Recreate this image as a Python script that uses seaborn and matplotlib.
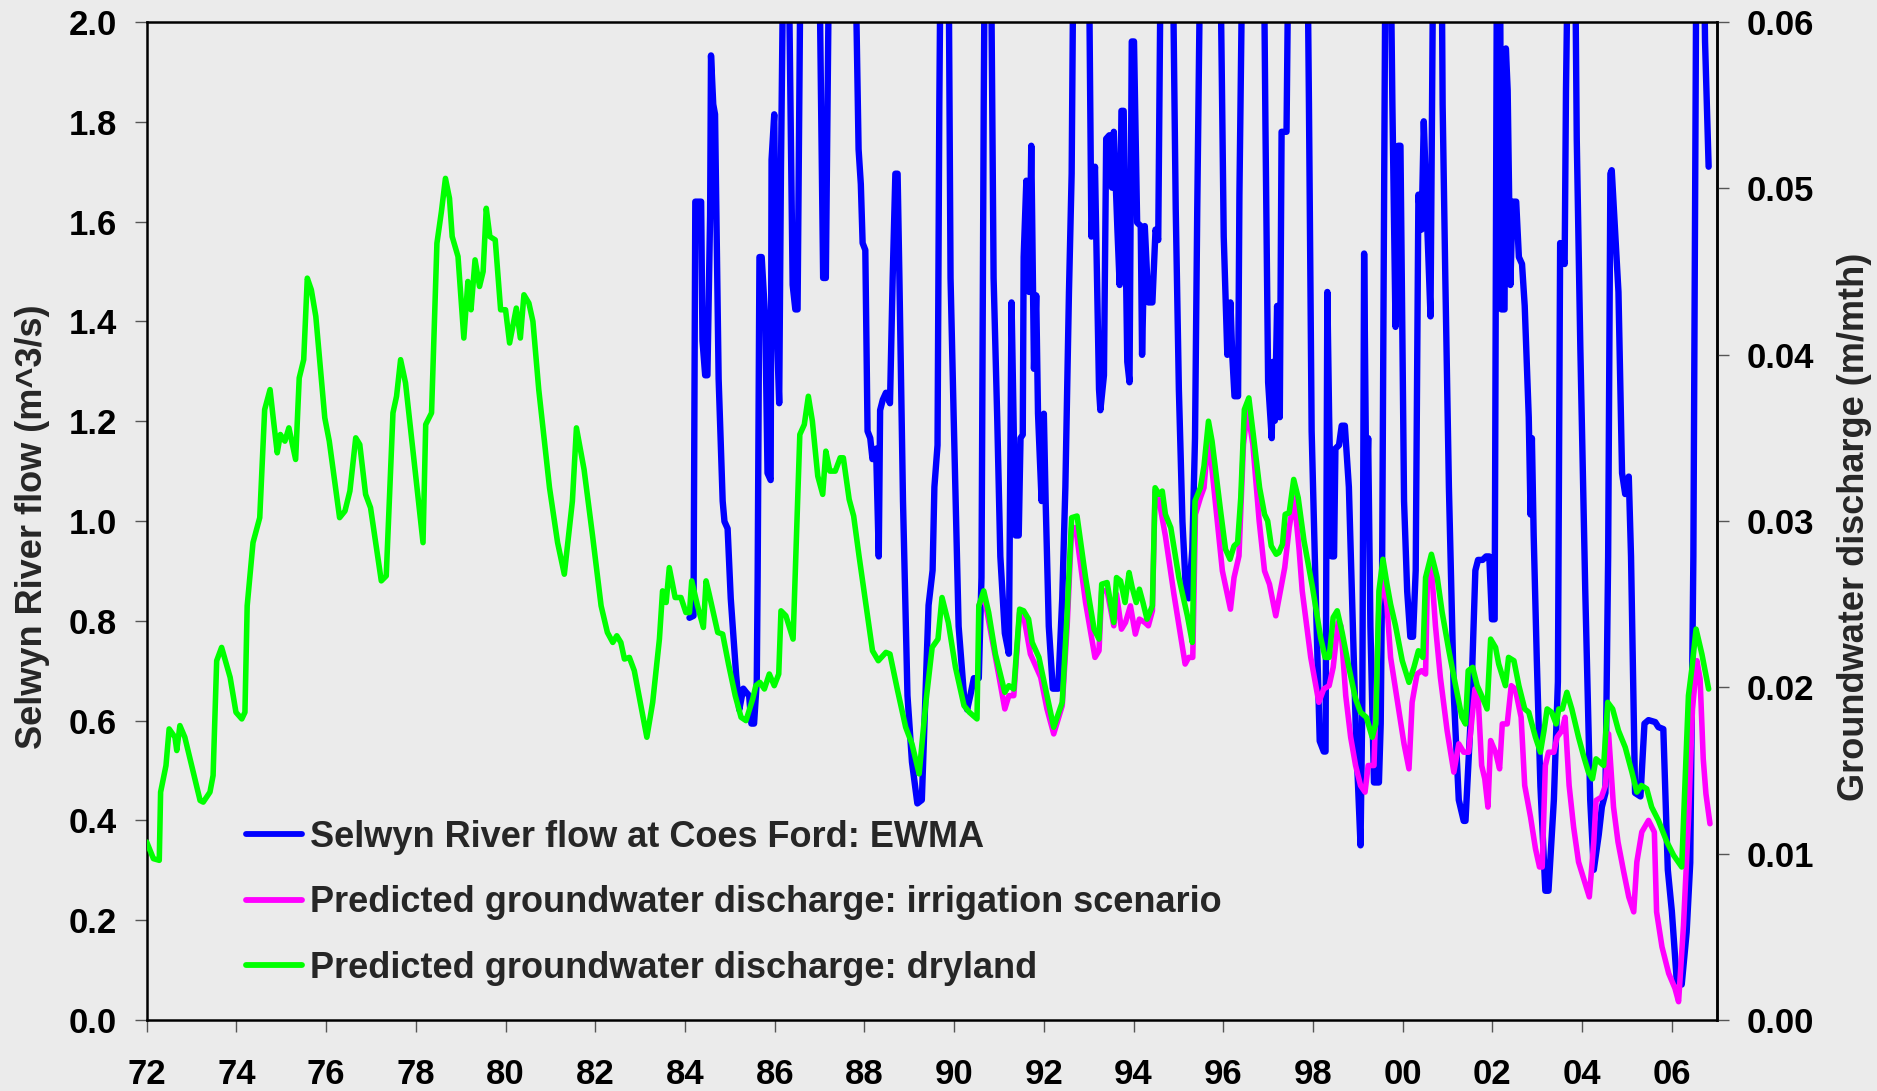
import numpy as np
import pandas as pd
import matplotlib
matplotlib.use("Agg")
import matplotlib.pyplot as plt
import seaborn as sns
from matplotlib.lines import Line2D

# ---------------- data ----------------
# Selwyn River flow at Coes Ford, EWMA (m^3/s) : (decimal year, flow)
river_flow = [
    (1984.10, 0.806), (1984.19, 0.810), (1984.23, 1.640), (1984.36, 1.640), (1984.39, 1.361),
    (1984.45, 1.292), (1984.50, 1.292), (1984.56, 1.612), (1984.58, 1.933), (1984.63, 1.835),
    (1984.67, 1.815), (1984.75, 1.285), (1984.84, 1.040), (1984.88, 0.999), (1984.95, 0.985),
    (1985.02, 0.845), (1985.14, 0.692), (1985.21, 0.622), (1985.30, 0.664), (1985.36, 0.657),
    (1985.43, 0.650), (1985.48, 0.594), (1985.54, 0.594), (1985.60, 0.678), (1985.62, 0.887),
    (1985.66, 1.529), (1985.71, 1.529), (1985.79, 1.403), (1985.84, 1.096), (1985.91, 1.082),
    (1985.93, 1.724), (1985.99, 1.815), (1986.03, 1.431), (1986.10, 1.236), (1986.14, 1.710),
    (1986.21, 2.30), (1986.29, 2.30), (1986.40, 1.473), (1986.46, 1.424), (1986.51, 1.424),
    (1986.60, 2.40), (1986.96, 2.40), (1987.08, 1.487), (1987.14, 1.487), (1987.24, 2.40),
    (1987.75, 2.40), (1987.87, 1.745), (1987.92, 1.675), (1987.96, 1.557), (1988.02, 1.543),
    (1988.07, 1.180), (1988.13, 1.166), (1988.18, 1.124), (1988.26, 1.145), (1988.32, 0.929),
    (1988.35, 1.222), (1988.41, 1.243), (1988.48, 1.257), (1988.57, 1.236), (1988.63, 1.487),
    (1988.69, 1.696), (1988.74, 1.696), (1988.78, 1.487), (1988.86, 1.040), (1988.96, 0.650),
    (1989.06, 0.517), (1989.18, 0.434), (1989.28, 0.441), (1989.36, 0.650), (1989.43, 0.831),
    (1989.52, 0.901), (1989.56, 1.068), (1989.63, 1.152), (1989.67, 1.835), (1989.72, 2.40),
    (1989.86, 2.40), (1989.92, 1.487), (1989.99, 1.208), (1990.10, 0.789), (1990.22, 0.650),
    (1990.29, 0.622), (1990.36, 0.650), (1990.44, 0.685), (1990.55, 0.685), (1990.61, 0.887),
    (1990.66, 1.835), (1990.70, 2.40), (1990.80, 2.40), (1990.88, 1.487), (1990.96, 1.208),
    (1991.03, 0.929), (1991.13, 0.775), (1991.22, 0.734), (1991.28, 1.438), (1991.37, 0.971),
    (1991.44, 0.971), (1991.48, 1.166), (1991.53, 1.173), (1991.55, 1.529), (1991.61, 1.682),
    (1991.67, 1.459), (1991.72, 1.752), (1991.78, 1.305), (1991.83, 1.452), (1991.87, 1.215),
    (1991.95, 1.040), (1992.00, 1.215), (1992.04, 1.040), (1992.11, 0.789), (1992.20, 0.664),
    (1992.32, 0.664), (1992.41, 0.845), (1992.48, 1.068), (1992.56, 1.459), (1992.62, 1.696),
    (1992.68, 2.40), (1992.98, 2.40), (1993.06, 1.570), (1993.14, 1.710), (1993.23, 1.264),
    (1993.26, 1.222), (1993.34, 1.292), (1993.39, 1.766), (1993.46, 1.773), (1993.52, 1.668),
    (1993.56, 1.780), (1993.64, 1.584), (1993.69, 1.473), (1993.73, 1.822), (1993.78, 1.822),
    (1993.86, 1.319), (1993.91, 1.278), (1993.96, 1.961), (1994.01, 1.961), (1994.08, 1.598),
    (1994.16, 1.591), (1994.19, 1.333), (1994.25, 1.591), (1994.33, 1.438), (1994.42, 1.438),
    (1994.49, 1.584), (1994.55, 1.563), (1994.63, 2.40), (1994.84, 2.40), (1994.94, 1.626),
    (1995.01, 1.264), (1995.09, 0.999), (1995.16, 0.873), (1995.23, 0.845), (1995.31, 0.943),
    (1995.37, 1.166), (1995.42, 1.626), (1995.52, 2.40), (1995.90, 2.40), (1996.01, 1.570),
    (1996.09, 1.333), (1996.16, 1.438), (1996.20, 1.333), (1996.25, 1.250), (1996.33, 1.250),
    (1996.36, 1.654), (1996.46, 2.40), (1996.88, 2.40), (1996.94, 1.794), (1997.00, 1.278),
    (1997.08, 1.166), (1997.11, 1.319), (1997.15, 1.201), (1997.20, 1.431), (1997.26, 1.208),
    (1997.30, 1.780), (1997.41, 1.780), (1997.48, 2.40), (1997.85, 2.40), (1997.91, 1.835),
    (1997.97, 1.180), (1998.06, 0.859), (1998.15, 0.559), (1998.24, 0.538), (1998.28, 0.538),
    (1998.32, 1.459), (1998.36, 1.208), (1998.42, 0.929), (1998.47, 0.929), (1998.50, 1.145),
    (1998.58, 1.152), (1998.64, 1.191), (1998.71, 1.191), (1998.80, 1.068), (1998.89, 0.789),
    (1998.96, 0.566), (1999.06, 0.350), (1999.10, 0.636), (1999.14, 1.536), (1999.19, 1.040),
    (1999.23, 1.166), (1999.28, 0.789), (1999.36, 0.476), (1999.47, 0.476), (1999.51, 0.594),
    (1999.54, 0.887), (1999.63, 2.40), (1999.70, 2.40), (1999.77, 1.835), (1999.84, 1.389),
    (1999.90, 1.752), (1999.95, 1.752), (2000.03, 1.040), (2000.10, 0.859), (2000.17, 0.768),
    (2000.23, 0.768), (2000.29, 0.901), (2000.35, 1.654), (2000.42, 1.584), (2000.47, 1.801),
    (2000.55, 1.584), (2000.62, 1.410), (2000.70, 2.40), (2000.85, 2.40), (2000.89, 1.835),
    (2000.95, 1.487), (2001.03, 1.068), (2001.14, 0.650), (2001.25, 0.441), (2001.36, 0.399),
    (2001.40, 0.399), (2001.51, 0.594), (2001.58, 0.789), (2001.62, 0.901), (2001.68, 0.922),
    (2001.78, 0.922), (2001.86, 0.929), (2001.93, 0.929), (2001.99, 0.803), (2002.05, 0.803),
    (2002.11, 2.40), (2002.16, 2.40), (2002.20, 1.424), (2002.27, 1.424), (2002.30, 1.947),
    (2002.34, 1.863), (2002.40, 1.473), (2002.45, 1.640), (2002.53, 1.640), (2002.59, 1.529),
    (2002.66, 1.515), (2002.72, 1.431), (2002.81, 1.208), (2002.85, 1.013), (2002.88, 1.166),
    (2002.92, 0.971), (2002.99, 0.720), (2003.07, 0.469), (2003.18, 0.259), (2003.25, 0.259),
    (2003.37, 0.441), (2003.46, 0.678), (2003.51, 1.557), (2003.61, 1.515), (2003.64, 1.863),
    (2003.72, 2.40), (2003.82, 2.40), (2003.88, 1.766), (2003.96, 1.347), (2004.07, 0.859),
    (2004.18, 0.441), (2004.26, 0.301), (2004.37, 0.371), (2004.44, 0.427), (2004.52, 0.455),
    (2004.58, 0.929), (2004.63, 1.696), (2004.66, 1.703), (2004.81, 1.459), (2004.89, 1.096),
    (2004.96, 1.054), (2005.04, 1.089), (2005.09, 0.929), (2005.18, 0.455), (2005.30, 0.448),
    (2005.39, 0.594), (2005.48, 0.601), (2005.63, 0.597), (2005.70, 0.587), (2005.81, 0.583),
    (2005.91, 0.301), (2006.00, 0.218), (2006.11, 0.078), (2006.22, 0.071), (2006.33, 0.176),
    (2006.41, 0.315), (2006.48, 0.929), (2006.56, 2.40), (2006.68, 2.40), (2006.74, 1.961),
    (2006.82, 1.710),
]

# Predicted groundwater discharge, irrigation scenario (m/mth)
gw_irrigation = [
    (1990.55, 0.0249), (1990.66, 0.0256), (1990.77, 0.0240), (1990.99, 0.0208), (1991.13, 0.0187),
    (1991.22, 0.0195), (1991.33, 0.0195), (1991.46, 0.0245), (1991.55, 0.0243), (1991.70, 0.0220),
    (1991.80, 0.0214), (1991.93, 0.0206), (1992.07, 0.0187), (1992.22, 0.0172), (1992.41, 0.0189),
    (1992.52, 0.0237), (1992.62, 0.0296), (1992.71, 0.0296), (1992.93, 0.0251), (1993.14, 0.0218),
    (1993.23, 0.0222), (1993.29, 0.0258), (1993.41, 0.0258), (1993.56, 0.0237), (1993.62, 0.0256),
    (1993.73, 0.0235), (1993.82, 0.0239), (1993.93, 0.0249), (1994.04, 0.0232), (1994.13, 0.0241),
    (1994.25, 0.0239), (1994.33, 0.0237), (1994.42, 0.0246), (1994.48, 0.0318), (1994.57, 0.0312),
    (1994.71, 0.0291), (1994.90, 0.0256), (1995.15, 0.0214), (1995.23, 0.0218), (1995.32, 0.0218),
    (1995.38, 0.0304), (1995.49, 0.0314), (1995.57, 0.0320), (1995.67, 0.0352), (1995.79, 0.0320),
    (1995.98, 0.0270), (1996.09, 0.0256), (1996.16, 0.0247), (1996.24, 0.0266), (1996.35, 0.0279),
    (1996.45, 0.0346), (1996.54, 0.0367), (1996.66, 0.0346), (1996.80, 0.0300), (1996.92, 0.0270),
    (1997.03, 0.0262), (1997.17, 0.0243), (1997.26, 0.0256), (1997.37, 0.0272), (1997.47, 0.0296),
    (1997.58, 0.0314), (1997.69, 0.0283), (1997.76, 0.0258), (1997.95, 0.0218), (1998.13, 0.0191),
    (1998.24, 0.0199), (1998.36, 0.0201), (1998.45, 0.0212), (1998.56, 0.0239), (1998.62, 0.0237),
    (1998.73, 0.0195), (1998.84, 0.0170), (1998.95, 0.0153), (1999.06, 0.0141), (1999.16, 0.0137),
    (1999.23, 0.0153), (1999.36, 0.0153), (1999.47, 0.0249), (1999.56, 0.0266), (1999.65, 0.0249),
    (1999.73, 0.0218), (1999.84, 0.0199), (2000.03, 0.0166), (2000.14, 0.0151), (2000.21, 0.0191),
    (2000.32, 0.0208), (2000.42, 0.0210), (2000.51, 0.0208), (2000.55, 0.0266), (2000.64, 0.0272),
    (2000.73, 0.0237), (2000.84, 0.0206), (2000.99, 0.0174), (2001.14, 0.0149), (2001.25, 0.0166),
    (2001.36, 0.0161), (2001.47, 0.0161), (2001.61, 0.0199), (2001.68, 0.0195), (2001.76, 0.0153),
    (2001.83, 0.0145), (2001.90, 0.0128), (2001.96, 0.0168), (2002.07, 0.0161), (2002.16, 0.0151),
    (2002.22, 0.0178), (2002.33, 0.0178), (2002.42, 0.0201), (2002.51, 0.0199), (2002.64, 0.0182),
    (2002.72, 0.0141), (2002.85, 0.0122), (2002.96, 0.0103), (2003.05, 0.0092), (2003.11, 0.0092),
    (2003.18, 0.0153), (2003.25, 0.0161), (2003.37, 0.0161), (2003.44, 0.0170), (2003.55, 0.0174),
    (2003.62, 0.0182), (2003.71, 0.0141), (2003.81, 0.0116), (2003.92, 0.0095), (2004.07, 0.0082),
    (2004.16, 0.0074), (2004.26, 0.0107), (2004.31, 0.0132), (2004.43, 0.0134), (2004.52, 0.0141),
    (2004.59, 0.0172), (2004.70, 0.0128), (2004.80, 0.0107), (2004.92, 0.0090), (2005.04, 0.0074),
    (2005.15, 0.0065), (2005.22, 0.0095), (2005.33, 0.0113), (2005.48, 0.0120), (2005.61, 0.0113),
    (2005.66, 0.0065), (2005.78, 0.0044), (2005.93, 0.0028), (2006.07, 0.0019), (2006.15, 0.0011),
    (2006.26, 0.0057), (2006.37, 0.0120), (2006.46, 0.0187), (2006.56, 0.0216), (2006.63, 0.0205),
    (2006.70, 0.0157), (2006.76, 0.0136), (2006.85, 0.0118),
]

# Predicted groundwater discharge, dryland (m/mth)
gw_dryland = [
    (1972.00, 0.0107), (1972.15, 0.0097), (1972.28, 0.0096), (1972.31, 0.0137), (1972.43, 0.0153),
    (1972.50, 0.0175), (1972.63, 0.0170), (1972.67, 0.0162), (1972.74, 0.0177), (1972.85, 0.0170),
    (1973.19, 0.0132), (1973.26, 0.0131), (1973.41, 0.0137), (1973.48, 0.0147), (1973.56, 0.0216),
    (1973.67, 0.0224), (1973.86, 0.0206), (1973.99, 0.0185), (1974.12, 0.0181), (1974.19, 0.0185),
    (1974.24, 0.0249), (1974.37, 0.0287), (1974.52, 0.0302), (1974.63, 0.0367), (1974.75, 0.0379),
    (1974.82, 0.0362), (1974.91, 0.0341), (1974.98, 0.0352), (1975.08, 0.0348), (1975.17, 0.0356),
    (1975.32, 0.0337), (1975.40, 0.0386), (1975.50, 0.0397), (1975.58, 0.0446), (1975.67, 0.0439),
    (1975.77, 0.0423), (1975.97, 0.0362), (1976.07, 0.0348), (1976.30, 0.0302), (1976.42, 0.0306),
    (1976.53, 0.0318), (1976.66, 0.0350), (1976.75, 0.0346), (1976.88, 0.0316), (1976.99, 0.0308),
    (1977.23, 0.0264), (1977.34, 0.0267), (1977.49, 0.0365), (1977.57, 0.0375), (1977.66, 0.0397),
    (1977.77, 0.0383), (1978.16, 0.0287), (1978.22, 0.0358), (1978.35, 0.0365), (1978.47, 0.0467),
    (1978.57, 0.0486), (1978.66, 0.0506), (1978.75, 0.0494), (1978.81, 0.0471), (1978.94, 0.0459),
    (1979.07, 0.0410), (1979.16, 0.0444), (1979.23, 0.0427), (1979.32, 0.0457), (1979.42, 0.0441),
    (1979.50, 0.0450), (1979.57, 0.0488), (1979.65, 0.0471), (1979.77, 0.0469), (1979.89, 0.0427),
    (1980.00, 0.0427), (1980.09, 0.0407), (1980.24, 0.0428), (1980.33, 0.0410), (1980.41, 0.0436),
    (1980.52, 0.0431), (1980.61, 0.0420), (1980.74, 0.0379), (1980.98, 0.0320), (1981.16, 0.0287),
    (1981.31, 0.0268), (1981.49, 0.0312), (1981.58, 0.0356), (1981.75, 0.0331), (1981.94, 0.0291),
    (1982.13, 0.0249), (1982.27, 0.0233), (1982.39, 0.0227), (1982.48, 0.0231), (1982.57, 0.0227),
    (1982.65, 0.0217), (1982.76, 0.0218), (1982.87, 0.0210), (1983.15, 0.0170), (1983.28, 0.0191),
    (1983.43, 0.0229), (1983.50, 0.0258), (1983.58, 0.0251), (1983.65, 0.0272), (1983.78, 0.0254),
    (1983.91, 0.0254), (1984.02, 0.0245), (1984.10, 0.0245), (1984.15, 0.0264), (1984.28, 0.0249),
    (1984.41, 0.0236), (1984.47, 0.0264), (1984.54, 0.0256), (1984.73, 0.0233), (1984.84, 0.0232),
    (1984.97, 0.0214), (1985.12, 0.0195), (1985.25, 0.0182), (1985.36, 0.0180), (1985.51, 0.0193),
    (1985.58, 0.0201), (1985.67, 0.0203), (1985.77, 0.0199), (1985.88, 0.0208), (1985.99, 0.0201),
    (1986.09, 0.0208), (1986.14, 0.0246), (1986.25, 0.0243), (1986.41, 0.0229), (1986.56, 0.0352),
    (1986.66, 0.0358), (1986.75, 0.0375), (1986.84, 0.0360), (1986.96, 0.0327), (1987.07, 0.0316),
    (1987.14, 0.0342), (1987.23, 0.0330), (1987.35, 0.0330), (1987.46, 0.0338), (1987.53, 0.0338),
    (1987.66, 0.0313), (1987.76, 0.0303), (1987.88, 0.0279), (1988.18, 0.0222), (1988.31, 0.0216),
    (1988.48, 0.0221), (1988.57, 0.0220), (1988.74, 0.0198), (1988.92, 0.0176), (1989.06, 0.0166),
    (1989.22, 0.0148), (1989.37, 0.0191), (1989.51, 0.0224), (1989.64, 0.0229), (1989.73, 0.0254),
    (1989.87, 0.0239), (1990.03, 0.0212), (1990.22, 0.0189), (1990.34, 0.0185), (1990.51, 0.0181),
    (1990.55, 0.0249), (1990.66, 0.0258), (1990.77, 0.0245), (1990.92, 0.0220), (1991.13, 0.0197),
    (1991.22, 0.0201), (1991.33, 0.0199), (1991.46, 0.0247), (1991.55, 0.0246), (1991.66, 0.0241),
    (1991.74, 0.0227), (1991.89, 0.0218), (1992.07, 0.0195), (1992.22, 0.0176), (1992.41, 0.0191),
    (1992.52, 0.0245), (1992.62, 0.0302), (1992.74, 0.0303), (1992.93, 0.0266), (1993.12, 0.0235),
    (1993.23, 0.0229), (1993.29, 0.0262), (1993.41, 0.0263), (1993.56, 0.0239), (1993.62, 0.0266),
    (1993.71, 0.0264), (1993.81, 0.0251), (1993.90, 0.0269), (1993.97, 0.0260), (1994.06, 0.0251),
    (1994.13, 0.0259), (1994.21, 0.0251), (1994.30, 0.0241), (1994.42, 0.0249), (1994.48, 0.0320),
    (1994.57, 0.0316), (1994.64, 0.0318), (1994.71, 0.0304), (1994.83, 0.0296), (1995.01, 0.0266),
    (1995.20, 0.0243), (1995.31, 0.0227), (1995.37, 0.0312), (1995.49, 0.0320), (1995.57, 0.0333),
    (1995.67, 0.0360), (1995.75, 0.0348), (1995.94, 0.0306), (1996.05, 0.0283), (1996.15, 0.0277),
    (1996.24, 0.0285), (1996.32, 0.0287), (1996.39, 0.0314), (1996.47, 0.0367), (1996.57, 0.0374),
    (1996.66, 0.0354), (1996.81, 0.0320), (1996.92, 0.0304), (1996.99, 0.0300), (1997.07, 0.0285),
    (1997.18, 0.0280), (1997.24, 0.0281), (1997.32, 0.0286), (1997.38, 0.0304), (1997.47, 0.0305),
    (1997.57, 0.0325), (1997.67, 0.0314), (1997.80, 0.0288), (1997.99, 0.0260), (1998.17, 0.0230),
    (1998.27, 0.0218), (1998.36, 0.0218), (1998.45, 0.0242), (1998.54, 0.0246), (1998.65, 0.0233),
    (1998.80, 0.0212), (1998.95, 0.0193), (1999.06, 0.0185), (1999.19, 0.0182), (1999.32, 0.0170),
    (1999.40, 0.0178), (1999.47, 0.0258), (1999.56, 0.0277), (1999.65, 0.0262), (1999.73, 0.0250),
    (1999.84, 0.0237), (1999.99, 0.0216), (2000.14, 0.0203), (2000.25, 0.0212), (2000.35, 0.0222),
    (2000.45, 0.0218), (2000.51, 0.0266), (2000.64, 0.0280), (2000.77, 0.0266), (2000.88, 0.0245),
    (2001.03, 0.0222), (2001.18, 0.0201), (2001.32, 0.0182), (2001.40, 0.0178), (2001.46, 0.0210),
    (2001.56, 0.0212), (2001.66, 0.0201), (2001.76, 0.0195), (2001.88, 0.0187), (2001.96, 0.0229),
    (2002.07, 0.0224), (2002.14, 0.0214), (2002.29, 0.0201), (2002.36, 0.0218), (2002.48, 0.0216),
    (2002.59, 0.0201), (2002.72, 0.0187), (2002.81, 0.0185), (2002.96, 0.0170), (2003.07, 0.0161),
    (2003.15, 0.0174), (2003.22, 0.0187), (2003.32, 0.0185), (2003.42, 0.0178), (2003.48, 0.0187),
    (2003.56, 0.0187), (2003.66, 0.0197), (2003.77, 0.0187), (2003.92, 0.0170), (2004.03, 0.0159),
    (2004.14, 0.0149), (2004.23, 0.0145), (2004.31, 0.0157), (2004.48, 0.0153), (2004.57, 0.0191),
    (2004.68, 0.0187), (2004.81, 0.0174), (2004.96, 0.0164), (2005.11, 0.0149), (2005.22, 0.0137),
    (2005.32, 0.0141), (2005.44, 0.0139), (2005.55, 0.0128), (2005.70, 0.0120), (2005.89, 0.0107),
    (2006.04, 0.0099), (2006.22, 0.0092), (2006.37, 0.0195), (2006.45, 0.0212), (2006.54, 0.0235),
    (2006.67, 0.0220), (2006.82, 0.0199),
]

series_labels = [
    "Selwyn River flow at Coes Ford: EWMA",
    "Predicted groundwater discharge: irrigation scenario",
    "Predicted groundwater discharge: dryland",
]
series_colors = ["#0000FF", "#FF00FF", "#00FF00"]
xtick_years = list(range(1972, 2007, 2))
xtick_labels = ["72", "74", "76", "78", "80", "82", "84", "86", "88", "90",
                "92", "94", "96", "98", "00", "02", "04", "06"]
left_ticks = [0.0, 0.2, 0.4, 0.6, 0.8, 1.0, 1.2, 1.4, 1.6, 1.8, 2.0]
right_ticks = [0.00, 0.01, 0.02, 0.03, 0.04, 0.05, 0.06]

# ---------------- styling ----------------
BG = "#EBEBEB"
sns.set_style("ticks")
plt.rcParams["font.family"] = ["Liberation Sans", "DejaVu Sans"]
plt.rcParams["font.weight"] = "bold"
lab_font = dict(family=["Liberation Sans", "DejaVu Sans"], fontweight="bold")

flow_df = pd.DataFrame(river_flow, columns=["year", "flow"])
irr_df = pd.DataFrame(gw_irrigation, columns=["year", "discharge"])
dry_df = pd.DataFrame(gw_dryland, columns=["year", "discharge"])

fig = plt.figure(figsize=(18.77, 10.91), dpi=100, facecolor=BG)
ax = fig.add_axes([146.7 / 1877, 1 - 1020 / 1091, 1570 / 1877, 998 / 1091])
ax.set_facecolor(BG)
ax2 = ax.twinx()

sns.lineplot(data=flow_df, x="year", y="flow", ax=ax, color=series_colors[0],
             linewidth=4.6, estimator=None, sort=False, legend=False)
sns.lineplot(data=irr_df, x="year", y="discharge", ax=ax2, color=series_colors[1],
             linewidth=4.0, estimator=None, sort=False, legend=False)
sns.lineplot(data=dry_df, x="year", y="discharge", ax=ax2, color=series_colors[2],
             linewidth=4.0, estimator=None, sort=False, legend=False)

ax.set_xlim(1972, 2007)
ax.set_ylim(0, 2.0)
ax2.set_ylim(0, 0.06)

ax.set_xticks(xtick_years)
ax.set_xticklabels(xtick_labels)
ax.set_yticks(left_ticks)
ax.set_yticklabels([f"{v:.1f}" for v in left_ticks])
ax2.set_yticks(right_ticks)
ax2.set_yticklabels([f"{v:.2f}" for v in right_ticks])

tick_kw = dict(direction="out", length=8.5, width=1.0, color="#555555",
               labelsize=25, labelcolor="black")
ax.tick_params(axis="y", pad=13, **tick_kw)
ax.tick_params(axis="x", pad=19, **tick_kw)
ax2.tick_params(axis="y", pad=13, **tick_kw)

for sp in ax.spines.values():
    sp.set_visible(True)
    sp.set_color("black")
    sp.set_linewidth(1.8)
for name, sp in ax2.spines.items():
    sp.set_visible(name == "right")
    sp.set_color("black")
    sp.set_linewidth(1.8)

ax.set_xlabel("")
ax.set_ylabel("Selwyn River flow (m^3/s)", fontsize=26, **lab_font)
ax.yaxis.set_label_coords(-0.0616, 0.494)
ax2.set_ylabel("Groundwater discharge (m/mth)", fontsize=26, **lab_font)
ax2.yaxis.set_label_coords(1.0766, 0.494)

handles = [Line2D([], [], color=c, linewidth=4.2) for c in series_colors]
ax2.legend(handles, series_labels, loc="center left", bbox_to_anchor=(0.063, 0.1175),
           frameon=False, borderpad=0, borderaxespad=0, handlelength=1.55,
           handletextpad=0.22, labelspacing=0.84,
           prop=dict(family=["Liberation Sans", "DejaVu Sans"], weight="bold", size=26))

fig.savefig("out.png", dpi=100, facecolor=BG)
